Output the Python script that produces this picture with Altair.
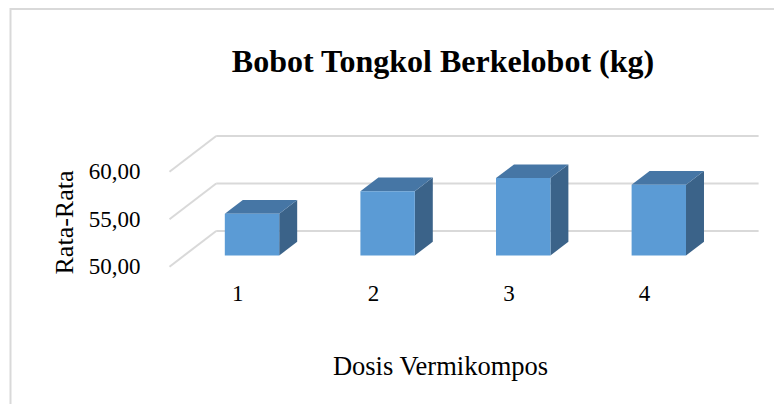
import altair as alt
import pandas as pd

# ---- data ----
categories = [1, 2, 3, 4]
values = [54.39, 56.77, 58.14, 57.44]
y_ticks = [50, 55, 60]

title_text = "Bobot Tongkol Berkelobot (kg)"
x_title = "Dosis Vermikompos"
y_title = "Rata-Rata"

FONT = "Liberation Serif"

# ---- oblique 3D projection geometry ----
PX_CAT = 135.6      # pixels per category step
PX_VAL = 9.5        # pixels per value unit
DX = 46.7 / PX_CAT  # full-depth shift in category units
DY = 35.7 / PX_VAL  # full-depth shift in value units
D0, D1 = 0.315, 0.70  # bar depth start / end (fraction of floor depth)
HW = 27.2 / PX_CAT    # bar half width
FLOOR = y_ticks[0]
X_LO, X_HI = 0.5, 4.5

W, H = 780, 420
ORIGIN_X, ORIGIN_Y = 10.5, 9.0
CAT1_X = 237.3
FLOOR_Y = 266.7
x_domain = [1 - (CAT1_X - ORIGIN_X) / PX_CAT, 1 + (ORIGIN_X + W - CAT1_X) / PX_CAT]
y_domain = [FLOOR - (ORIGIN_Y + H - FLOOR_Y) / PX_VAL, FLOOR + (FLOOR_Y - ORIGIN_Y) / PX_VAL]

# ---- derived tables ----
grid_rows = []
for v in y_ticks:
    grid_rows.append(dict(x=X_LO + DX, x2=X_HI + DX, y=v + DY, y2=v + DY))
    grid_rows.append(dict(x=X_LO, x2=X_LO + DX, y=v, y2=v + DY))
grid_df = pd.DataFrame(grid_rows)

front_rows, top_rows, side_rows = [], [], []
for c, v in zip(categories, values):
    xl = c - HW + D0 * DX
    xr = c + HW + D0 * DX
    sh = (D1 - D0) * DX
    yt = v + D0 * DY
    yb = v + D1 * DY
    front_rows.append(dict(bar=c, x=xl, x2=xr, y=FLOOR + D0 * DY, y2=yt))
    top_rows += [
        dict(bar=c, x=xl, y=yt, y2=yt),
        dict(bar=c, x=xl + sh, y=yb, y2=yt),
        dict(bar=c, x=xr, y=yb, y2=yt),
        dict(bar=c, x=xr + sh, y=yb, y2=yb),
    ]
    side_rows += [
        dict(bar=c, x=xr, y=yt, y2=FLOOR + D0 * DY),
        dict(bar=c, x=xr + sh, y=yb, y2=FLOOR + D1 * DY),
    ]
front_df = pd.DataFrame(front_rows)
top_df = pd.DataFrame(top_rows)
side_df = pd.DataFrame(side_rows)

x_axis = alt.Axis(
    values=categories, format="d", orient="bottom", offset=(280 - ORIGIN_Y) - H,
    ticks=False, tickSize=0, domain=False, grid=False, labelPadding=2,
    labelFont=FONT, labelFontSize=23, labelColor="black",
    title=x_title, titleFont=FONT, titleFontSize=26.5, titleFontWeight="normal",
    titleColor="black", titleX=440 - ORIGIN_X, titleY=94, titleAlign="center",
    titleBaseline="alphabetic",
)
y_axis = alt.Axis(
    values=y_ticks, labelExpr="replace(format(datum.value, '.2f'), '.', ',')",
    orient="left", offset=-(140 - ORIGIN_X), ticks=False, tickSize=0, domain=False,
    grid=False, labelPadding=0, labelFont=FONT, labelFontSize=23, labelColor="black",
    title=y_title, titleFont=FONT, titleFontSize=26, titleFontWeight="normal",
    titleColor="black", titleX=64 - 140, titleY=222 - ORIGIN_Y, titleAngle=270,
    titleAlign="center", titleBaseline="middle",
)
xs = alt.Scale(domain=x_domain, nice=False, zero=False)
ys = alt.Scale(domain=y_domain, nice=False, zero=False)


def X():
    return alt.X("x:Q", scale=xs, axis=x_axis)


def Y():
    return alt.Y("y:Q", scale=ys, axis=y_axis)


grid = alt.Chart(grid_df).mark_rule(color="#d9d9d9", strokeWidth=2).encode(
    x=X(), x2="x2:Q", y=Y(), y2="y2:Q"
)
side = alt.Chart(side_df).mark_area(color="#3B6389", strokeWidth=0).encode(
    x=X(), y=Y(), y2="y2:Q", detail="bar:N"
)
top = alt.Chart(top_df).mark_area(color="#4676A5", strokeWidth=0).encode(
    x=X(), y=Y(), y2="y2:Q", detail="bar:N"
)
front = alt.Chart(front_df).mark_rect(color="#5B9BD5").encode(
    x=X(), x2="x2:Q", y=Y(), y2="y2:Q"
)

chart = (
    alt.layer(grid, side, top, front)
    .properties(
        width=W,
        height=H,
        autosize=alt.AutoSizeParams(type="none"),
        padding={"left": ORIGIN_X - 8, "top": ORIGIN_Y - 8,
                 "right": 766 - (ORIGIN_X - 8) - W, "bottom": 396 - (ORIGIN_Y - 8) - H},
        title=alt.TitleParams(
            text=title_text, font=FONT, fontSize=32, fontWeight="bold", color="black",
            anchor="middle", frame="group", dx=443 - (ORIGIN_X + W / 2),
            offset=-95, baseline="alphabetic",
        ),
        background="white",
    )
    .configure_view(stroke="#d9d9d9", strokeWidth=2)
)

chart.save("out.html", embed_options={"renderer": "svg", "actions": False})
